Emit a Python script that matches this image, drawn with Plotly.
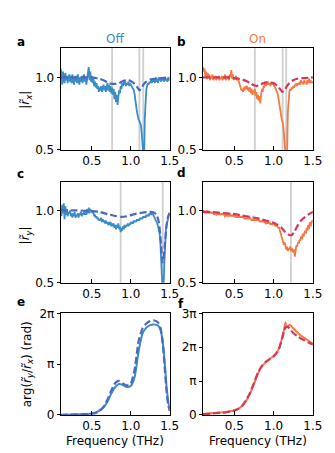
import numpy as np
import plotly.graph_objects as go

# ---------------- data ----------------
FREQ = np.round(np.arange(0.10, 1.5001, 0.01), 2)   # THz, measured grid

RX_OFF = [1.06,1.03,0.95,1.04,0.99,0.96,1.03,0.98,1.01,0.96,
          1.00,1.02,0.97,1.01,0.96,1.02,0.98,0.95,1.00,0.97,
          1.01,0.96,1.02,0.98,0.95,1.00,0.97,1.01,0.96,0.99,
          1.02,0.97,1.00,0.95,0.99,1.03,1.07,0.98,1.04,0.97,
          1.01,0.96,0.99,0.94,0.97,0.93,0.96,0.92,0.94,0.90,
          0.93,0.91,0.94,0.90,0.93,0.95,0.91,0.94,0.90,0.93,
          0.96,0.91,0.95,0.90,0.94,0.89,0.93,0.88,0.92,0.85,
          0.90,0.83,0.88,0.81,0.87,0.91,0.89,0.94,0.92,0.96,
          0.94,0.97,0.95,0.97,0.94,0.96,0.95,0.97,0.94,0.96,
          0.95,0.94,0.93,0.92,0.91,0.88,0.85,0.80,0.76,0.73,
          0.71,0.70,0.69,0.67,0.62,0.55,0.45,0.40,0.72,0.88,
          0.92,0.94,0.96,0.95,0.97,0.96,0.98,0.96,0.99,0.97,
          0.99,0.96,1.00,0.97,0.99,0.96,1.00,0.98,0.99,0.97,
          1.00,0.98,0.99,0.97,1.00,0.98,0.99,0.97,1.00,0.98,
          0.99]

RX_ON = [1.07,1.04,1.06,1.01,1.04,0.99,1.03,1.00,1.02,0.98,
         1.01,0.99,1.02,0.98,1.00,0.99,1.01,0.98,1.00,0.99,
         1.01,0.98,1.00,0.99,1.01,0.98,1.00,0.99,1.02,0.98,
         1.00,0.99,1.01,0.98,1.02,1.00,1.05,0.99,1.02,0.98,
         1.00,0.99,1.01,0.98,1.00,0.98,0.96,0.94,0.93,0.91,
         0.92,0.90,0.93,0.91,0.94,0.92,0.94,0.91,0.93,0.90,
         0.93,0.89,0.92,0.88,0.91,0.89,0.92,0.87,0.90,0.85,
         0.88,0.84,0.87,0.82,0.88,0.92,0.90,0.94,0.93,0.96,
         0.94,0.96,0.95,0.97,0.95,0.96,0.94,0.96,0.95,0.96,
         0.95,0.94,0.93,0.92,0.91,0.89,0.86,0.82,0.79,0.75,
         0.72,0.70,0.68,0.62,0.56,0.45,0.40,0.42,0.75,0.86,
         0.90,0.92,0.91,0.93,0.92,0.94,0.93,0.95,0.94,0.96,
         0.94,0.96,0.95,0.97,0.95,0.98,0.96,0.97,0.95,0.98,
         0.96,0.97,0.95,0.98,0.96,0.99,0.96,0.98,0.96,0.97,
         0.96]

RY_OFF = [1.02,0.96,1.04,0.98,1.05,0.94,1.03,0.97,1.01,0.96,
          0.99,0.98,1.00,0.96,0.98,0.95,0.98,0.96,0.99,0.95,
          0.97,0.96,0.98,0.95,0.98,0.97,0.99,0.96,0.98,0.97,
          0.99,0.97,1.00,0.97,1.01,0.98,1.02,0.98,1.01,0.99,
          1.00,0.98,0.99,0.96,0.97,0.95,0.96,0.94,0.95,0.93,
          0.94,0.93,0.95,0.92,0.94,0.92,0.93,0.91,0.93,0.91,
          0.92,0.90,0.92,0.90,0.92,0.89,0.91,0.89,0.91,0.88,
          0.90,0.87,0.90,0.88,0.91,0.87,0.89,0.85,0.88,0.86,
          0.89,0.87,0.90,0.88,0.90,0.89,0.91,0.89,0.91,0.90,
          0.92,0.91,0.92,0.91,0.93,0.92,0.93,0.92,0.94,0.93,
          0.94,0.93,0.95,0.94,0.95,0.94,0.96,0.95,0.96,0.95,
          0.97,0.96,0.97,0.96,0.98,0.97,0.98,0.97,0.98,0.97,
          0.96,0.95,0.94,0.93,0.91,0.89,0.87,0.84,0.78,0.70,
          0.55,0.42,0.45,0.62,0.78,0.86,0.90,0.93,0.95,0.97,
          0.98]

RY_ON = [0.99,1.00,0.98,0.99,0.98,1.00,0.98,0.99,0.98,0.99,
         0.98,0.99,0.98,0.99,0.97,0.98,0.99,0.97,0.98,0.98,
         0.97,0.98,0.97,0.98,0.97,0.98,0.97,0.98,0.96,0.97,
         0.97,0.96,0.97,0.96,0.98,0.96,0.97,0.96,0.97,0.96,
         0.96,0.97,0.95,0.96,0.95,0.96,0.95,0.96,0.95,0.96,
         0.95,0.96,0.95,0.94,0.95,0.94,0.95,0.94,0.95,0.94,
         0.95,0.94,0.93,0.94,0.93,0.94,0.93,0.94,0.93,0.94,
         0.93,0.94,0.92,0.93,0.92,0.93,0.92,0.93,0.92,0.92,
         0.91,0.92,0.91,0.92,0.91,0.92,0.90,0.91,0.90,0.91,
         0.90,0.91,0.89,0.90,0.89,0.89,0.88,0.88,0.86,0.85,
         0.83,0.81,0.78,0.76,0.78,0.75,0.73,0.75,0.72,0.74,
         0.73,0.75,0.72,0.74,0.73,0.71,0.73,0.68,0.72,0.76,
         0.75,0.78,0.77,0.80,0.79,0.82,0.80,0.84,0.82,0.85,
         0.86,0.84,0.88,0.86,0.90,0.87,0.92,0.89,0.91,0.93,
         0.92]

# model (dashed) curves
MODEL_RX_OFF_F = [0.10,0.20,0.30,0.40,0.50,0.55,0.60,0.65,0.70,0.75,0.80,0.85,0.90,0.95,1.00,1.05,1.08,1.11,1.14,1.17,1.20,1.25,1.30,1.40,1.50]
MODEL_RX_OFF   = [1.00,1.00,1.00,1.00,1.00,0.995,0.99,0.98,0.965,0.955,0.955,0.96,0.975,0.98,0.975,0.955,0.935,0.91,0.93,0.955,0.97,0.985,0.99,0.995,1.00]

MODEL_RX_ON_F = [0.10,0.20,0.30,0.40,0.50,0.55,0.60,0.65,0.70,0.75,0.78,0.82,0.85,0.90,0.95,1.00,1.05,1.08,1.11,1.14,1.17,1.20,1.25,1.30,1.40,1.50]
MODEL_RX_ON   = [1.00,1.00,1.00,1.00,0.995,0.99,0.985,0.975,0.96,0.945,0.94,0.95,0.955,0.965,0.965,0.96,0.94,0.92,0.90,0.915,0.94,0.96,0.98,0.99,0.995,1.00]

MODEL_RY_OFF_F = [0.10,0.30,0.50,0.60,0.70,0.80,0.88,0.95,1.05,1.15,1.25,1.30,1.33,1.36,1.38,1.40,1.41,1.42,1.44,1.46,1.48,1.50]
MODEL_RY_OFF   = [1.00,1.00,0.995,0.99,0.975,0.962,0.955,0.96,0.975,0.985,0.99,0.985,0.97,0.92,0.82,0.68,0.64,0.66,0.78,0.90,0.96,0.985]

MODEL_RY_ON_F = [0.10,0.20,0.30,0.40,0.50,0.60,0.70,0.80,0.90,1.00,1.05,1.10,1.15,1.20,1.23,1.26,1.30,1.35,1.40,1.45,1.50]
MODEL_RY_ON   = [0.99,0.99,0.985,0.98,0.975,0.965,0.955,0.945,0.93,0.915,0.90,0.88,0.85,0.83,0.83,0.85,0.89,0.93,0.955,0.975,0.99]

# phase arg(ry/rx), in units of pi
PHASE_OFF_F = [0.10,0.20,0.30,0.40,0.45,0.50,0.55,0.60,0.65,0.70,0.75,0.80,0.85,0.90,0.95,1.00,1.05,1.10,1.15,1.20,1.25,1.30,1.35,1.38,1.40,1.42,1.44,1.46,1.48,1.50]
PHASE_OFF       = [0.0,0.005,0.01,0.015,0.02,0.03,0.05,0.09,0.15,0.26,0.42,0.55,0.61,0.59,0.55,0.57,0.75,1.25,1.60,1.72,1.77,1.78,1.76,1.68,1.55,1.30,0.95,0.55,0.28,0.12]
PHASE_OFF_MODEL = [0.0,0.005,0.01,0.015,0.02,0.025,0.04,0.08,0.16,0.30,0.48,0.63,0.67,0.62,0.58,0.62,0.90,1.45,1.70,1.80,1.85,1.86,1.82,1.72,1.55,1.25,0.85,0.45,0.20,0.08]

PHASE_ON_F = [0.10,0.20,0.30,0.40,0.45,0.50,0.55,0.60,0.65,0.70,0.75,0.80,0.85,0.90,0.95,1.00,1.05,1.08,1.11,1.13,1.15,1.16,1.18,1.20,1.22,1.25,1.30,1.35,1.40,1.45,1.50]
PHASE_ON       = [0.03,0.05,0.07,0.09,0.11,0.14,0.19,0.27,0.42,0.63,0.92,1.22,1.43,1.56,1.65,1.74,1.88,2.05,2.30,2.50,2.74,2.60,2.62,2.66,2.64,2.56,2.44,2.34,2.26,2.18,2.10]
PHASE_ON_MODEL = [0.02,0.04,0.06,0.08,0.10,0.13,0.18,0.27,0.44,0.66,0.95,1.25,1.45,1.57,1.65,1.73,1.87,2.03,2.28,2.45,2.58,2.59,2.60,2.56,2.50,2.42,2.33,2.25,2.20,2.13,2.08]

# resonance markers (THz)
VLINES = {1: [0.76, 1.11, 1.16], 2: [0.76, 1.115, 1.16], 3: [0.87, 1.41], 4: [1.22], 5: [], 6: []}

# ---------------- style ----------------
BLUE = "#3a8cc6"
BLUE_D = "#4a68bf"
ORANGE = "#f47a45"
CRIMSON = "#d4365a"
FONT = "DejaVu Sans"
FS = 12
W, H = 335, 453

fig = go.Figure()

def add(idx, x, y, color, dash=None, width=1.6, spline=False):
    ax = "" if idx == 1 else str(idx)
    line = dict(color=color, width=width)
    if dash:
        line["dash"] = dash
    if spline:
        line["shape"] = "spline"
        line["smoothing"] = 0.6
    fig.add_trace(go.Scatter(x=x, y=y, mode="lines", line=line,
                             xaxis="x" + ax, yaxis="y" + ax,
                             showlegend=False, hoverinfo="skip"))

DASH = "7px,3px"
add(1, FREQ, RX_OFF, BLUE, width=1.8)
add(1, MODEL_RX_OFF_F, MODEL_RX_OFF, BLUE_D, DASH, 2.2, True)
add(2, FREQ, RX_ON, ORANGE, width=1.8)
add(2, MODEL_RX_ON_F, MODEL_RX_ON, CRIMSON, DASH, 2.2, True)
add(3, FREQ, RY_OFF, BLUE, width=1.8)
add(3, MODEL_RY_OFF_F, MODEL_RY_OFF, BLUE_D, DASH, 2.2, True)
add(4, FREQ, RY_ON, ORANGE, width=1.8)
add(4, MODEL_RY_ON_F, MODEL_RY_ON, CRIMSON, DASH, 2.2, True)
add(5, PHASE_OFF_F, PHASE_OFF, BLUE, width=2, spline=True)
add(5, PHASE_OFF_F, PHASE_OFF_MODEL, BLUE_D, DASH, 2.2, True)
add(6, PHASE_ON_F, PHASE_ON, ORANGE, width=2, spline=True)
add(6, PHASE_ON_F, PHASE_ON_MODEL, CRIMSON, DASH, 2.2, True)

cols = [[54.3 / W, 166.7 / W], [201 / W, 314.3 / W]]
rows = [[1 - 139.3 / H, 1 - 34.3 / H], [1 - 276.2 / H, 1 - 171.9 / H], [1 - 412.7 / H, 1 - 307.9 / H]]

layout = dict(width=W, height=H, margin=dict(l=0, r=0, t=0, b=0),
              plot_bgcolor="white", paper_bgcolor="white",
              font=dict(family=FONT, size=FS, color="black"))

for i in range(6):
    r, c = divmod(i, 2)
    ax = "" if i == 0 else str(i + 1)
    xa = dict(domain=cols[c], range=[0.1, 1.5], anchor="y" + ax,
              tickvals=[0.5, 1.0, 1.5], ticktext=["0.5", "1.0", "1.5"],
              ticks="inside", ticklen=4, tickcolor="black", tickwidth=1,
              showline=True, mirror=True, linecolor="black", linewidth=1,
              showgrid=False, zeroline=False, tickfont=dict(size=FS))
    if r < 2:
        ya = dict(range=[0.5, 1.2], tickvals=[0.5, 1.0], ticktext=["0.5", "1.0"])
    elif c == 0:
        ya = dict(range=[0, 2], tickvals=[0, 1, 2], ticktext=["0", "π", "2π"])
    else:
        ya = dict(range=[0, 3], tickvals=[0, 1, 2, 3], ticktext=["0", "π", "2π", "3π"])
    ya.update(domain=rows[r], anchor="x" + ax, ticks="outside", ticklen=3,
              tickcolor="black", tickwidth=1, showline=True, mirror=True,
              linecolor="black", linewidth=1, showgrid=False, zeroline=False,
              tickfont=dict(size=FS))
    layout["xaxis" + ax] = xa
    layout["yaxis" + ax] = ya

shapes = []
for idx, xs in VLINES.items():
    ax = "" if idx == 1 else str(idx)
    for xv in xs:
        shapes.append(dict(type="line", xref="x" + ax, yref="y" + ax + " domain",
                           x0=xv, x1=xv, y0=0, y1=1, layer="below",
                           line=dict(color="#cfcfcf", width=1.8)))
layout["shapes"] = shapes

def ann(x, y, text, size=FS, color="black", **kw):
    d = dict(x=x / W, y=1 - y / H, xref="paper", yref="paper", text=text,
             showarrow=False, xanchor="center", yanchor="middle",
             font=dict(family=FONT, size=size, color=color))
    d.update(kw)
    return d

annotations = [
    ann(13, 28, "<b>a</b>"), ann(179, 28, "<b>b</b>"),
    ann(13, 164, "<b>c</b>"), ann(179, 163, "<b>d</b>"),
    ann(13, 296, "<b>e</b>"), ann(178, 298, "<b>f</b>"),
    ann(110.5, 25, "Off", color=BLUE),
    ann(257.5, 25, "On", color=ORANGE),
    ann(19, 87, "|<i>r̃</i><sub><i>x</i></sub>|", textangle=-90),
    ann(19, 227, "|<i>r̃</i><sub><i>y</i></sub>|", textangle=-90),
    ann(20, 360, "arg(<i>r̃</i><sub><i>y</i></sub>/<i>r̃</i><sub><i>x</i></sub>) (rad)", textangle=-90),
    ann(110.5, 439.5, "Frequency (THz)"),
    ann(257.5, 439.5, "Frequency (THz)"),
]
layout["annotations"] = annotations

fig.update_layout(**layout)
fig.write_html("out.html")
